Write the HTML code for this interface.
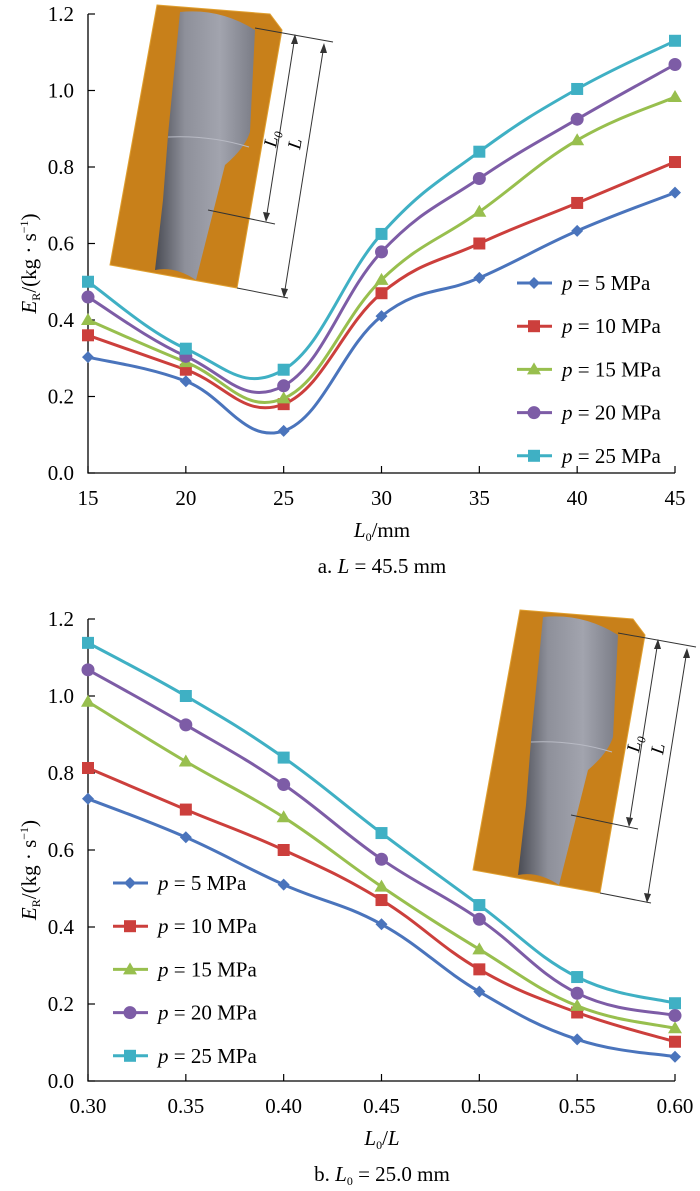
<!DOCTYPE html>
<html><head><meta charset="utf-8"><style>
html,body{margin:0;padding:0;background:#fff;}
svg, svg text, svg tspan{font-family:"Liberation Serif","Times New Roman",serif;}
</style></head><body>
<svg id="svg" width="700" height="1186" viewBox="0 0 700 1186" xmlns="http://www.w3.org/2000/svg" font-family="Liberation Serif, serif">
<defs>
<linearGradient id="cyl" x1="0" x2="1" y1="0" y2="0">
<stop offset="0" stop-color="#4a4c54"/><stop offset="0.3" stop-color="#8e909a"/><stop offset="0.65" stop-color="#a2a4ae"/><stop offset="1" stop-color="#7a7c86"/>
</linearGradient>
<g id="inset">
<polygon points="157,5 270,14 282,30 237,288 110,265" fill="#c8801a" stroke="#e0a030" stroke-width="1"/>
<path d="M180,12 Q220,8 255,30 L250,132 Q245,148 225,165 L196,280 Q175,266 155,270 L163,200 L168,135 Z" fill="url(#cyl)"/>
<path d="M168,137 Q210,135 249,147" fill="none" stroke="#b8bac4" stroke-width="1"/>
<g stroke="#333" stroke-width="1" fill="none">
<line x1="255" y1="28" x2="333" y2="42"/>
<line x1="208" y1="210" x2="275" y2="224"/>
<line x1="237" y1="288" x2="288" y2="298"/>
<line x1="295" y1="36" x2="266" y2="220"/>
<line x1="324" y1="45" x2="284" y2="296"/>
</g>
<g fill="#333">
<polygon points="295,34 291,44 298,44"/><polygon points="266,222 263,212 270,213"/>
<polygon points="324,43 320,53 327,53"/><polygon points="284,298 281,288 288,289"/>
</g>
<text x="0" y="0" font-style="italic" font-size="19" transform="translate(276,148) rotate(-80)">L<tspan font-size="12" dy="4">0</tspan></text>
<text x="0" y="0" font-style="italic" font-size="19" transform="translate(300,150) rotate(-80)">L</text>
</g>
</defs>
<g id="chartA"></g>
<g id="chartB"></g>
</svg>
<script>
const seriesNames = ["p=5 MPa","p=10 MPa","p=15 MPa","p=20 MPa","p=25 MPa"];
const seriesKeys = ["5","10","15","20","25"];
const colors = ["#4a74bc","#cc3f3c","#98bf4e","#7d5ca6","#3fb0c4"];
const markers = ["diamond","square","triangle","circle","square"];
const yTicks = [0.0,0.2,0.4,0.6,0.8,1.0,1.2];
const yTickLabels = ["0.0","0.2","0.4","0.6","0.8","1.0","1.2"];
const catsA = [15,20,25,30,35,40,45];
const catLabelsA = ["15","20","25","30","35","40","45"];
const a5 = [0.303,0.24,0.11,0.41,0.51,0.633,0.733];
const a10 = [0.36,0.27,0.18,0.47,0.60,0.706,0.813];
const a15 = [0.40,0.29,0.195,0.505,0.683,0.87,0.983];
const a20 = [0.46,0.305,0.228,0.578,0.77,0.925,1.068];
const a25 = [0.50,0.325,0.27,0.625,0.84,1.004,1.13];
const catsB = [0.30,0.35,0.40,0.45,0.50,0.55,0.60];
const catLabelsB = ["0.30","0.35","0.40","0.45","0.50","0.55","0.60"];
const b5 = [0.733,0.633,0.51,0.407,0.232,0.108,0.063];
const b10 = [0.813,0.705,0.60,0.47,0.29,0.178,0.102];
const b15 = [0.985,0.83,0.685,0.505,0.342,0.195,0.137];
const b20 = [1.068,0.925,0.77,0.576,0.42,0.228,0.17];
const b25 = [1.138,1.0,0.84,0.644,0.457,0.27,0.202];
const NS="http://www.w3.org/2000/svg";
function mk(tag,attrs,parent){const e=document.createElementNS(NS,tag);for(const k in attrs)e.setAttribute(k,attrs[k]);parent.appendChild(e);return e;}
function spline(pts){let d="M"+pts[0][0]+","+pts[0][1];for(let i=0;i<pts.length-1;i++){const p0=pts[Math.max(i-1,0)],p1=pts[i],p2=pts[i+1],p3=pts[Math.min(i+2,pts.length-1)];const t=0.2;const c1=[p1[0]+(p2[0]-p0[0])*t,p1[1]+(p2[1]-p0[1])*t];const c2=[p2[0]-(p3[0]-p1[0])*t,p2[1]-(p3[1]-p1[1])*t];d+=" C"+c1[0].toFixed(1)+","+c1[1].toFixed(1)+" "+c2[0].toFixed(1)+","+c2[1].toFixed(1)+" "+p2[0].toFixed(1)+","+p2[1].toFixed(1);}return d;}
function marker(g,type,x,y,c){let e;
 if(type==="diamond")e=mk("polygon",{points:`${x},${y-6} ${x+6},${y} ${x},${y+6} ${x-6},${y}`,fill:c},g);
 else if(type==="square")e=mk("rect",{x:x-6,y:y-6,width:12,height:12,fill:c},g);
 else if(type==="triangle")e=mk("polygon",{points:`${x},${y-7} ${x+7},${y+5} ${x-7},${y+5}`,fill:c},g);
 else e=mk("circle",{cx:x,cy:y,r:6.5,fill:c},g);
 return e;}
const FF="Liberation Serif, serif";
function chart(gid,cats,catLabels,data,y0,y12,xTitleTail,caption,legX,legY){
 const g=document.getElementById(gid);
 const x0=88,x1=675;
 const xs=v=>x0+(v-cats[0])/(cats[cats.length-1]-cats[0])*(x1-x0);
 const ys=v=>y0-(v/1.2)*(y0-y12);
 const ax=mk("path",{d:`M${x0},${y12} V${y0} H${x1}`,fill:"none",stroke:"#000","stroke-width":1.3},g);
 
 
 yTicks.forEach((t,i)=>{const y=ys(t);mk("line",{x1:x0,x2:x0+7,y1:y,y2:y,stroke:"#000","stroke-width":1.2},g);
  const tx=mk("text",{x:74,y:y+7,"text-anchor":"end","font-size":21,"font-family":FF},g);tx.textContent=yTickLabels[i];
  
  });
 cats.forEach((c,i)=>{const x=xs(c);mk("line",{x1:x,x2:x,y1:y0,y2:y0-7,stroke:"#000","stroke-width":1.2},g);
  const tx=mk("text",{x:x,y:y0+32,"text-anchor":"middle","font-size":21,"font-family":FF},g);tx.textContent=catLabels[i];
  
  });
 const yt=mk("text",{transform:`translate(36,${(y0+y12)/2+20}) rotate(-90)`,"text-anchor":"middle","font-size":21,"font-family":FF},g);
 yt.innerHTML='<tspan font-style="italic">E</tspan><tspan font-size="12" dy="4">R</tspan><tspan dy="-4">/(kg · s</tspan><tspan font-size="12" dy="-8">−1</tspan><tspan dy="8">)</tspan>';
 
 
 const xt=mk("text",{x:382,y:y0+64,"text-anchor":"middle","font-size":21,"font-family":FF},g);
 xt.innerHTML='<tspan font-style="italic">L</tspan><tspan font-size="12" dy="4">0</tspan><tspan dy="-4">'+xTitleTail+'</tspan>';
 
 
 const cp=mk("text",{x:382,y:y0+100,"text-anchor":"middle","font-size":21,"font-family":FF},g);
 cp.innerHTML=caption;
 
 
 data.forEach((vals,si)=>{const pts=vals.map((v,i)=>[xs(cats[i]),ys(v)]);
  const sg=mk("g",{},g);
  
  
  mk("path",{d:spline(pts),fill:"none",stroke:colors[si],"stroke-width":3},sg);
  pts.forEach(p=>{const m=marker(sg,markers[si],p[0],p[1],colors[si]);
   
   });});
 seriesNames.forEach((n,si)=>{const y=legY+si*43.2;const lg=mk("g",{},g);
  
  
  mk("line",{x1:legX,x2:legX+35,y1:y,y2:y,stroke:colors[si],"stroke-width":3},lg);
  marker(lg,markers[si],legX+17,y,colors[si]);
  const t=mk("text",{x:legX+45,y:y+7,"font-size":21,"font-family":FF},lg);
  t.innerHTML='<tspan font-style="italic">p</tspan> = '+seriesKeys[si]+' MPa';});
}
chart("chartA",catsA,catLabelsA,[a5,a10,a15,a20,a25],473,14,"/mm",'a. <tspan font-style="italic">L</tspan> = 45.5 mm',517,283);
chart("chartB",catsB,catLabelsB,[b5,b10,b15,b20,b25],1081,619,"/<tspan font-style=\"italic\">L</tspan>",'b. <tspan font-style="italic">L</tspan><tspan font-size="12" dy="4">0</tspan><tspan dy="-4"> = 25.0 mm</tspan>',113,883);
const svg=document.getElementById("svg");
const i1=mk("use",{href:"#inset"},svg);


const i2=mk("use",{href:"#inset",transform:"translate(363,605)"},svg);


</script>
</body></html>
